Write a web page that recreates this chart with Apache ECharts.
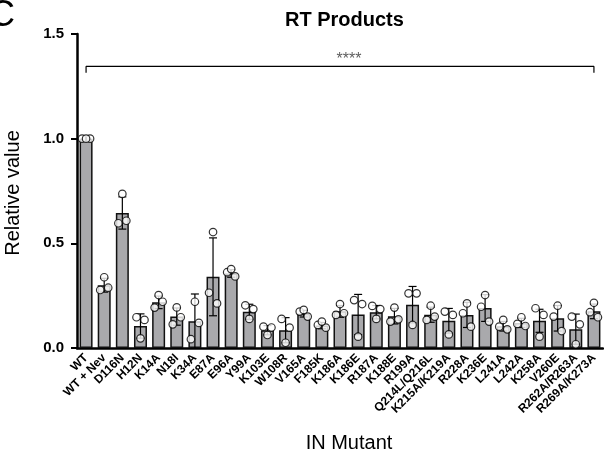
<!DOCTYPE html>
<html>
<head>
<meta charset="utf-8">
<script src="https://cdn.jsdelivr.net/npm/echarts@6/dist/echarts.min.js"></script>
<style>
  html, body { margin: 0; padding: 0; background: #fff; }
  #chart { width: 604px; height: 454px; }
</style>
</head>
<body>
<div id="chart"></div>
<script>
var categories = [
  'WT', 'WT + Nev', 'D116N', 'H12N', 'K14A', 'N18I', 'K34A', 'E87A', 'E96A', 'Y99A',
  'K103E', 'W108R', 'V165A', 'F185K', 'K186A', 'K186E', 'R187A', 'K188E', 'R199A',
  'Q214L/Q216L', 'K215A/K219A', 'R228A', 'K236E', 'L241A', 'L242A', 'K258A', 'V260E',
  'R262A/R263A', 'R269A/K273A'
];

// bar heights (mean) and standard deviation
var means = [
  1.0, 0.300, 0.645, 0.105, 0.218, 0.150, 0.128, 0.340, 0.356, 0.173,
  0.085, 0.085, 0.164, 0.107, 0.175, 0.160, 0.171, 0.152, 0.207,
  0.159, 0.130, 0.158, 0.191, 0.104, 0.120, 0.130, 0.142,
  0.090, 0.175
];
var sd = [
  0.003, 0.033, 0.077, 0.058, 0.030, 0.041, 0.130, 0.186, 0.018, 0.036,
  0.022, 0.060, 0.016, 0.015, 0.028, 0.096, 0.032, 0.037, 0.087,
  0.036, 0.059, 0.060, 0.064, 0.023, 0.022, 0.055, 0.061,
  0.072, 0.035
];

// individual replicates (center / left / right in each bar)
var repCenter = [
  1.0, 0.338, 0.736, 0.046, 0.253, 0.194, 0.221, 0.554, 0.377, 0.139,
  0.062, 0.025, 0.182, 0.126, 0.210, 0.054, 0.139, 0.193, 0.110,
  0.202, 0.065, 0.213, 0.253, 0.134, 0.147, 0.054, 0.202,
  0.018, 0.216
];
var repLeft = [
  1.0, 0.277, 0.596, 0.147, 0.193, 0.113, 0.042, 0.264, 0.362, 0.204,
  0.102, 0.139, 0.174, 0.110, 0.158, 0.229, 0.201, 0.126, 0.261,
  0.134, 0.174, 0.166, 0.197, 0.102, 0.115, 0.190, 0.150,
  0.150, 0.171
];
var repRight = [
  1.0, 0.288, 0.608, 0.134, 0.221, 0.147, 0.120, 0.213, 0.342, 0.186,
  0.098, 0.097, 0.150, 0.097, 0.166, 0.210, 0.186, 0.137, 0.261,
  0.150, 0.158, 0.102, 0.126, 0.089, 0.105, 0.158, 0.081,
  0.113, 0.147
];

var yTicks = [0, 0.5, 1.0, 1.5];

// significance bracket WT vs all
var bracketY = 1.345;
var bracketDrop = 1.315;
var sigText = '****';

var FONT = "'Liberation Sans', Arial, Helvetica, sans-serif";

var errData = means.map(function (m, i) { return [i, m - sd[i], m + sd[i]]; });
function reps(arr) { return arr.map(function (v, i) { return [i, v]; }); }

function pointSeries(arr, dx) {
  return {
    type: 'scatter',
    data: reps(arr),
    symbol: 'circle',
    symbolSize: 7.5,
    symbolOffset: [dx, 0],
    itemStyle: { color: '#fff', borderColor: '#000', borderWidth: 1.2 },
    z: 5,
    silent: true
  };
}

var last = categories.length - 1;
var mid = Math.round(last / 2);

var chart = echarts.init(document.getElementById('chart'), null, { renderer: 'canvas' });
chart.setOption({
  animation: false,
  textStyle: { fontFamily: FONT },
  title: {
    text: 'RT Products',
    left: 285,
    top: 10,
    padding: 0,
    textStyle: { fontFamily: FONT, fontSize: 20, fontWeight: 'bold', color: '#000' }
  },
  graphic: [
    {
      type: 'text', left: -11, top: -2,
      style: { text: 'C', font: '36px ' + FONT, fill: '#000' }
    },
    {
      type: 'text', x: 13, y: 193, rotation: Math.PI / 2,
      style: { text: 'Relative value', font: '20px ' + FONT, fill: '#000', align: 'center', verticalAlign: 'middle' }
    },
    {
      type: 'text', x: 349, y: 443,
      style: { text: 'IN Mutant', font: '20px ' + FONT, fill: '#000', align: 'center', verticalAlign: 'middle' }
    }
  ],
  grid: { left: 77, right: 1, top: 34, bottom: 106 },
  xAxis: {
    type: 'category',
    data: categories,
    axisLine: { lineStyle: { color: '#000', width: 2.5 } },
    axisTick: { alignWithLabel: true, length: 5, lineStyle: { color: '#000', width: 1.5 } },
    axisLabel: {
      rotate: 45, interval: 0, margin: 8,
      fontFamily: FONT, fontSize: 12, fontWeight: 'bold', color: '#000'
    }
  },
  yAxis: {
    type: 'value',
    min: 0, max: 1.5, interval: 0.5,
    axisLine: { show: true, lineStyle: { color: '#000', width: 2.5 } },
    axisTick: { show: true, length: 6, lineStyle: { color: '#000', width: 2 } },
    splitLine: { show: false },
    axisLabel: {
      margin: 13,
      fontFamily: FONT, fontSize: 15, fontWeight: 'bold', color: '#000',
      formatter: function (v) { return yTicks.indexOf(v) >= 0 ? v.toFixed(1) : ''; }
    }
  },
  series: [
    {
      type: 'bar',
      data: means,
      barWidth: 13,
      itemStyle: { color: '#a9a9ac', borderColor: '#111', borderWidth: 1.5 },
      z: 2,
      silent: true
    },
    {
      type: 'custom',
      data: errData,
      z: 4,
      silent: true,
      renderItem: function (params, api) {
        var i = api.value(0);
        var lo = api.coord([i, api.value(1)]);
        var hi = api.coord([i, api.value(2)]);
        var w = 4;
        var st = { stroke: '#000', lineWidth: 1.2 };
        return {
          type: 'group',
          children: [
            { type: 'line', shape: { x1: lo[0], y1: lo[1], x2: hi[0], y2: hi[1] }, style: st },
            { type: 'line', shape: { x1: hi[0] - w, y1: hi[1], x2: hi[0] + w, y2: hi[1] }, style: st },
            { type: 'line', shape: { x1: lo[0] - w, y1: lo[1], x2: lo[0] + w, y2: lo[1] }, style: st }
          ]
        };
      }
    },
    pointSeries(repLeft, -4),
    pointSeries(repRight, 4),
    pointSeries(repCenter, 0),
    {
      type: 'line',
      data: [[0, bracketDrop], [0, bracketY], [last, bracketY], [last, bracketDrop]],
      symbol: 'none',
      lineStyle: { color: '#000', width: 1.2 },
      silent: true
    },
    {
      type: 'scatter',
      data: [[mid, bracketY]],
      symbolSize: 0,
      label: {
        show: true, position: 'top', distance: -1, offset: [9, 0],
        formatter: sigText, fontFamily: FONT, fontSize: 16, color: '#333'
      },
      silent: true
    }
  ]
});
</script>
</body>
</html>
